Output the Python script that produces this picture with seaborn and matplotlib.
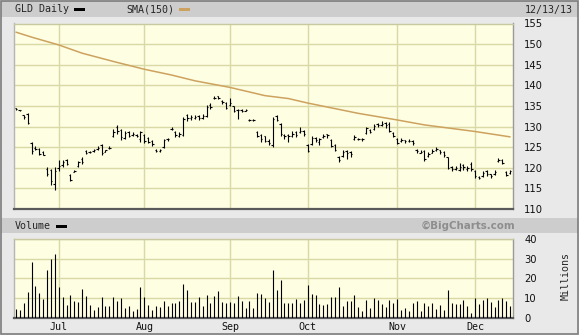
import numpy as np
import pandas as pd
import matplotlib
matplotlib.use("Agg")
import matplotlib.pyplot as plt
import seaborn as sns
from matplotlib.patches import Rectangle

# ---------------- data ----------------
trade_days = pd.bdate_range("2013-06-14", "2013-12-13", freq="C",
                            holidays=["2013-07-04", "2013-09-02", "2013-11-28"])

high = [134.5, 134.1, 132.9, 133.2, 126.2, 125.4, 124.8, 124.0, 120.1, 119.8,
        120.1, 121.8, 121.8, 122.2, 118.5, 119.5, 121.7, 122.6, 124.3, 124.0,
        124.6, 125.4, 125.8, 124.4, 125.2, 129.4, 130.4, 129.4, 129.0, 128.9,
        128.7, 128.1, 129.0, 128.2, 127.4, 126.8, 124.6, 124.6, 127.0, 127.3,
        129.8, 129.0, 128.7, 132.2, 133.1, 132.7, 132.9, 132.7, 133.1, 135.3,
        135.6, 137.5, 137.5, 136.5, 135.9, 137.0, 135.1, 134.3, 134.3, 134.2,
        131.9, 131.9, 128.9, 128.3, 127.8, 126.9, 132.2, 132.9, 130.9, 128.3,
        128.2, 129.0, 129.0, 129.8, 129.2, 125.8, 127.8, 127.4, 127.2, 128.3,
        128.3, 127.0, 125.8, 122.9, 124.3, 124.3, 124.0, 128.0, 127.2, 127.2,
        130.0, 129.4, 130.6, 130.9, 131.4, 131.0, 131.0, 128.6, 127.2, 127.2,
        126.8, 127.0, 126.8, 124.6, 124.4, 124.2, 123.8, 124.6, 125.0, 124.4,
        124.0, 122.7, 120.5, 120.5, 121.2, 120.9, 120.5, 121.4, 119.5, 117.9,
        119.3, 119.5, 118.6, 119.5, 122.4, 122.2, 119.2, 119.5]
low = [134.1, 133.7, 131.9, 130.5, 123.4, 124.4, 123.0, 123.0, 118.1, 115.9,
       114.7, 119.3, 120.1, 120.6, 116.7, 118.9, 120.3, 120.8, 123.4, 123.6,
       123.8, 124.2, 123.0, 123.8, 124.6, 127.4, 128.2, 126.8, 127.0, 127.4,
       127.6, 127.4, 126.2, 126.0, 126.0, 125.4, 123.8, 123.8, 124.8, 126.6,
       129.1, 127.4, 127.4, 127.8, 131.3, 131.7, 131.9, 131.5, 131.9, 132.4,
       134.3, 136.7, 136.6, 135.5, 134.3, 135.1, 133.5, 131.9, 133.5, 133.7,
       131.3, 131.3, 127.4, 126.3, 126.2, 125.5, 125.0, 131.3, 127.8, 127.1,
       126.2, 127.4, 127.4, 128.4, 127.8, 123.8, 125.6, 126.2, 125.6, 127.2,
       127.2, 125.1, 124.0, 121.4, 122.7, 122.2, 122.7, 126.8, 126.8, 126.6,
       128.2, 128.4, 129.2, 129.8, 130.2, 129.7, 128.8, 127.4, 125.7, 126.3,
       126.1, 126.3, 125.6, 123.5, 123.5, 121.6, 122.7, 123.5, 124.0, 123.4,
       122.7, 119.6, 119.3, 119.4, 119.3, 119.4, 119.3, 119.3, 117.6, 117.2,
       117.7, 118.1, 117.4, 118.3, 121.4, 120.8, 117.9, 118.6]
open_ = [134.4, 134.0, 132.7, 133.0, 126.0, 124.8, 124.6, 123.8, 119.8, 119.5,
         116.0, 120.0, 120.6, 121.9, 118.3, 119.0, 120.5, 122.2, 124.1, 123.8,
         124.1, 124.5, 125.6, 123.9, 124.8, 127.6, 129.8, 129.2, 127.2, 128.6,
         127.9, 128.0, 127.0, 127.9, 127.2, 126.6, 124.4, 124.0, 125.0, 127.1,
         129.3, 128.8, 127.6, 128.0, 132.8, 132.0, 132.1, 132.5, 132.1, 132.6,
         135.3, 136.9, 137.3, 136.3, 135.7, 135.3, 135.0, 134.0, 134.1, 133.8,
         131.7, 131.5, 128.6, 128.0, 127.6, 126.6, 125.5, 132.5, 130.7, 128.0,
         128.0, 127.6, 128.8, 128.6, 129.0, 125.6, 125.8, 127.2, 126.2, 127.4,
         128.1, 126.8, 125.6, 122.7, 122.9, 124.0, 123.8, 127.0, 127.1, 127.0,
         128.4, 129.2, 129.4, 130.6, 130.4, 130.9, 130.6, 128.4, 127.0, 126.4,
         126.7, 126.4, 126.6, 124.4, 123.7, 124.0, 122.9, 123.7, 124.2, 124.2,
         123.8, 122.5, 120.2, 119.6, 119.5, 120.6, 119.6, 120.8, 119.3, 117.8,
         117.9, 119.3, 118.4, 118.5, 121.6, 122.0, 119.0, 118.8]
close = [134.3, 133.9, 132.2, 130.8, 124.0, 124.6, 123.3, 123.2, 118.5, 116.7,
         119.2, 120.5, 121.3, 121.0, 117.0, 119.2, 121.4, 121.5, 123.6, 123.8,
         124.3, 124.8, 123.6, 124.2, 124.9, 128.8, 129.0, 127.5, 128.5, 127.8,
         128.3, 127.6, 128.6, 126.4, 126.3, 125.7, 124.1, 124.3, 126.8, 126.9,
         129.5, 127.9, 128.3, 131.9, 132.0, 132.2, 132.3, 132.0, 132.6, 134.8,
         134.8, 137.0, 136.9, 135.9, 134.5, 135.6, 133.8, 133.9, 133.8, 134.0,
         131.6, 131.6, 127.8, 127.0, 126.5, 125.9, 131.8, 131.6, 128.1, 127.6,
         127.7, 128.3, 128.0, 129.0, 128.2, 124.1, 127.2, 126.7, 126.9, 127.6,
         127.9, 125.4, 124.3, 122.0, 123.8, 123.6, 123.4, 127.4, 127.0, 126.9,
         129.6, 128.8, 130.2, 130.3, 130.7, 130.3, 129.0, 127.7, 126.0, 126.8,
         126.5, 126.6, 125.9, 124.0, 123.8, 122.1, 123.3, 124.0, 124.5, 123.8,
         123.0, 120.0, 119.8, 120.0, 120.2, 120.1, 120.0, 119.6, 117.9, 117.6,
         118.8, 118.6, 118.0, 119.0, 122.0, 121.2, 118.2, 119.2]
volume_m = [4.3, 3.8, 7.4, 13.0, 28.5, 16.1, 12.5, 9.4, 24.4, 29.6,
            32.5, 15.6, 10.4, 6.5, 11.5, 8.4, 8.0, 14.5, 10.9, 6.3,
            3.8, 5.5, 10.4, 6.0, 6.0, 10.4, 8.5, 9.9, 5.0, 6.0,
            3.2, 4.4, 15.6, 10.4, 6.5, 3.8, 5.8, 5.5, 8.4, 6.0,
            7.4, 7.4, 8.4, 17.1, 14.0, 7.9, 8.0, 10.4, 6.0, 11.5,
            7.4, 10.9, 13.5, 7.9, 7.4, 7.9, 7.4, 10.9, 8.4, 5.0,
            8.4, 5.0, 12.5, 12.0, 10.1, 8.0, 24.3, 14.0, 19.1, 7.4,
            7.4, 7.4, 9.4, 7.4, 8.9, 16.6, 12.0, 11.5, 6.8, 6.5,
            6.8, 10.4, 10.4, 15.6, 6.0, 8.4, 8.4, 11.5, 5.5, 3.2,
            8.9, 5.0, 9.9, 8.9, 6.8, 5.5, 8.9, 7.4, 9.4, 3.8,
            5.0, 3.2, 7.4, 8.4, 3.2, 7.4, 6.0, 7.4, 4.4, 6.3,
            3.8, 14.0, 7.4, 6.8, 6.8, 8.9, 6.0, 2.2, 9.9, 6.8,
            8.9, 9.9, 7.9, 5.5, 8.9, 9.9, 8.4, 6.0]
sma_idx = [0, 4, 11, 17, 25, 33, 40, 46, 55, 64, 70, 75, 88, 98, 105, 118, 127]
sma_val = [152.9, 151.7, 149.8, 147.8, 145.8, 143.9, 142.5, 141.1, 139.5, 137.5,
           136.8, 135.7, 133.2, 131.6, 130.4, 128.8, 127.5]
price_ticks = [110, 115, 120, 125, 130, 135, 140, 145, 150, 155]
vol_ticks = [0, 10, 20, 30, 40]
month_labels = ["Jul", "Aug", "Sep", "Oct", "Nov", "Dec"]
title_left = "GLD Daily"
sma_label = "SMA(150)"
date_label = "12/13/13"

# ---------------- styling ----------------
sns.set_theme(style="white")
plt.rcParams['font.family'] = ['DejaVu Sans']

W, H = 579, 335
BG = '#fefee3'
GRID = '#d9d9a6'
SMA_C = '#cda25e'
MARGIN = '#e9e9e9'
BAND = '#cdcdcd'

fig = plt.figure(figsize=(W / 100, H / 100), dpi=100)
fig.patch.set_facecolor(MARGIN)


def fx(px):
    return px / W


def fy(py):
    return 1 - py / H


def band(y0, y1):
    fig.add_artist(Rectangle((fx(1), fy(y1)), fx(577), (y1 - y0) / H,
                             transform=fig.transFigure, facecolor=BAND,
                             edgecolor='none', zorder=0))


def swatch(x0, x1, y, color):
    fig.add_artist(Rectangle((fx(x0), fy(y + 1.5)), fx(x1 - x0), 3 / H,
                             transform=fig.transFigure, facecolor=color,
                             edgecolor='none', zorder=2))


band(1, 17)
band(218, 233)
fig.add_artist(Rectangle((fx(0.5), fy(334)), fx(577.5), 333.5 / H,
                         transform=fig.transFigure, facecolor='none',
                         edgecolor='#7c7c7c', linewidth=1.2, zorder=5))

n = len(high)
x = np.arange(n)
month_pos = [i for i in range(1, n) if trade_days[i].month != trade_days[i - 1].month]

LW = 0.8
TICK = 0.36

# ---------------- price panel ----------------
ax1 = fig.add_axes([fx(14), fy(209), fx(499), (209 - 23.5) / H])
ax1.set_facecolor(BG)
ax1.set_xlim(-0.5, n - 0.25)
ax1.set_ylim(110, 155)
ax1.set_yticks(price_ticks)
ax1.set_xticks(month_pos)
ax1.grid(True, color=GRID, linewidth=1.0)
ax1.set_axisbelow(True)
ax1.tick_params(axis='x', length=0, labelbottom=False)
ax1.yaxis.tick_right()
ax1.tick_params(axis='y', length=0, pad=8, labelsize=7.2, colors='#111111')

sns.lineplot(x=sma_idx, y=sma_val, ax=ax1, color=SMA_C, linewidth=1.1, zorder=2)
ax1.vlines(x, low, high, color='black', linewidth=LW, zorder=3)
ax1.hlines(open_, x - TICK, x, color='black', linewidth=LW, zorder=3)
ax1.hlines(close, x, x + TICK, color='black', linewidth=LW, zorder=3)
ax1.set_xlabel("")
ax1.set_ylabel("")

# ---------------- volume panel ----------------
ax2 = fig.add_axes([fx(14), fy(317.5), fx(499), (317.5 - 239) / H])
ax2.set_facecolor(BG)
ax2.set_xlim(-0.5, n - 0.25)
ax2.set_ylim(0, 40)
ax2.set_yticks(vol_ticks)
ax2.set_xticks(month_pos)
ax2.set_xticklabels(month_labels, family='DejaVu Sans Mono', fontsize=7.2)
ax2.grid(True, color=GRID, linewidth=1.0)
ax2.set_axisbelow(True)
ax2.tick_params(axis='x', length=0, pad=3, colors='#111111')
ax2.yaxis.tick_right()
ax2.tick_params(axis='y', length=0, pad=8, labelsize=7.2, colors='#111111')
ax2.vlines(x, 0, volume_m, color='black', linewidth=LW, zorder=3)

for ax in (ax1, ax2):
    ax.spines['top'].set_color('#c9c9a0')
    ax.spines['left'].set_color('#b5b5b5')
    ax.spines['right'].set_color('#9a9a9a')
    ax.spines['bottom'].set_color('#5a5a5a')
    ax.spines['bottom'].set_linewidth(1.6)
    for s in ('top', 'left', 'right'):
        ax.spines[s].set_linewidth(1.0)

# ---------------- header texts ----------------
mono = 'DejaVu Sans Mono'
fig.text(fx(15), fy(9.5), title_left, family=mono, fontsize=7.2, va='center', ha='left')
swatch(74, 85, 9.5, 'black')
fig.text(fx(126), fy(9.5), sma_label, family=mono, fontsize=7.2, va='center', ha='left')
swatch(179, 190, 9.5, SMA_C)
fig.text(fx(573), fy(9.5), date_label, family=mono, fontsize=7.2, va='center', ha='right')

fig.text(fx(15), fy(226), "Volume", family=mono, fontsize=7.2, va='center', ha='left')
swatch(56, 67, 226, 'black')
fig.text(fx(515), fy(226), "©BigCharts.com", fontsize=7.4, fontweight='bold',
         color='#8e8e8e', va='center', ha='right')
fig.text(fx(566), fy(276), "Millions", family=mono, fontsize=7.2, rotation=90,
         va='center', ha='center')

fig.savefig("out.png", dpi=100, facecolor=fig.get_facecolor())
